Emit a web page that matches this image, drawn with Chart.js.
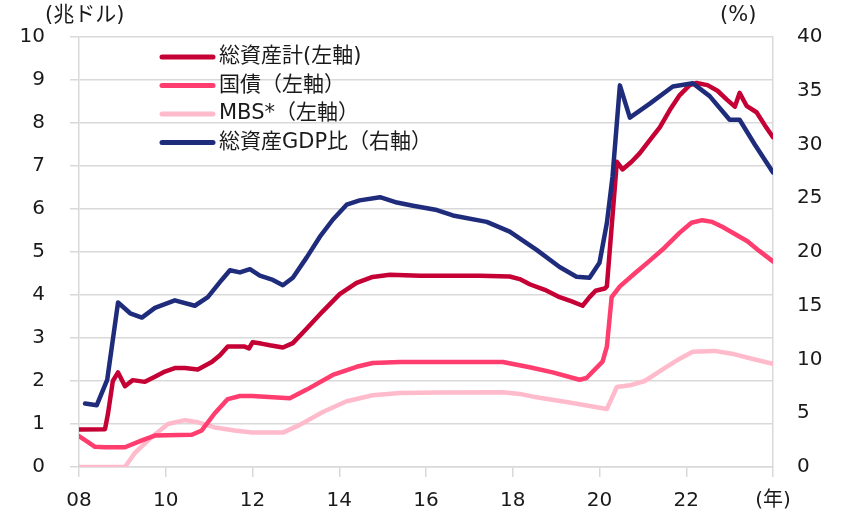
<!DOCTYPE html>
<html>
<head>
<meta charset="utf-8">
<script src="https://cdn.jsdelivr.net/npm/chart.js@4"></script>
<style>
  body { margin: 0; background: #fff; }
</style>
</head>
<body>
<canvas id="fedChart" width="843" height="512"></canvas>
<script>
// 系列名
const seriesNames = ["総資産計(左軸)", "国債（左軸）", "MBS*（左軸）", "総資産GDP比（右軸）"];

// X軸の目盛り
const yearTicks = ["08", "10", "12", "14", "16", "18", "20", "22", "(年)"];

// 総資産計（兆ドル）
const assetYears = [2008.0, 2008.6, 2008.67, 2008.78, 2008.9, 2009.06, 2009.24, 2009.52, 2009.75, 2009.98,
  2010.21, 2010.44, 2010.74, 2011.06, 2011.25, 2011.43, 2011.82, 2011.92, 2012.0, 2012.2,
  2012.4, 2012.7, 2012.93, 2013.25, 2013.62, 2014.01, 2014.4, 2014.77, 2015.17, 2015.86,
  2016.55, 2017.24, 2017.93, 2018.16, 2018.39, 2018.74, 2019.08, 2019.36, 2019.61, 2019.77,
  2019.91, 2020.12, 2020.17, 2020.4, 2020.53, 2020.74, 2020.93, 2021.16, 2021.39, 2021.62,
  2021.85, 2022.08, 2022.24, 2022.49, 2022.72, 2022.93, 2023.12, 2023.23, 2023.39, 2023.62,
  2023.81, 2024.0];
const assetValues = [0.87, 0.88, 1.25, 2.0, 2.2, 1.88, 2.02, 1.98, 2.1, 2.22,
  2.3, 2.3, 2.27, 2.44, 2.6, 2.8, 2.8, 2.76, 2.9, 2.87,
  2.83, 2.78, 2.88, 3.22, 3.62, 4.02, 4.28, 4.42, 4.47, 4.45,
  4.45, 4.45, 4.43, 4.37, 4.25, 4.12, 3.95, 3.85, 3.75, 3.95,
  4.1, 4.15, 4.2, 7.1, 6.92, 7.1, 7.3, 7.6, 7.9, 8.3,
  8.65, 8.88, 8.93, 8.88, 8.75, 8.55, 8.38, 8.7, 8.4, 8.25,
  7.95, 7.67];

// 国債（兆ドル）
const tsyYears = [2008.0, 2008.37, 2008.6, 2009.06, 2009.45, 2009.75, 2010.6, 2010.83, 2011.13, 2011.43,
  2011.71, 2011.99, 2012.86, 2013.25, 2013.85, 2014.4, 2014.77, 2015.4, 2017.77, 2018.39,
  2018.92, 2019.54, 2019.7, 2020.07, 2020.17, 2020.28, 2020.47, 2020.81, 2021.16, 2021.5,
  2021.85, 2022.12, 2022.37, 2022.6, 2022.84, 2023.12, 2023.41, 2023.69, 2024.0];
const tsyValues = [0.72, 0.47, 0.46, 0.46, 0.62, 0.73, 0.75, 0.85, 1.25, 1.58,
  1.65, 1.65, 1.6, 1.8, 2.14, 2.33, 2.42, 2.44, 2.44, 2.32,
  2.2, 2.03, 2.07, 2.45, 2.8, 3.95, 4.2, 4.5, 4.8, 5.1,
  5.45, 5.68, 5.74, 5.7, 5.58, 5.42, 5.25, 5.02, 4.78];

// MBS（兆ドル）
const mbsYears = [2008.0, 2009.06, 2009.29, 2009.68, 2010.05, 2010.44, 2010.74, 2011.13, 2011.59, 2011.99,
  2012.7, 2013.09, 2013.62, 2014.17, 2014.77, 2015.4, 2016.32, 2017.77, 2018.16, 2018.55,
  2019.31, 2020.17, 2020.4, 2020.7, 2021.04, 2021.27, 2021.5, 2021.85, 2022.15, 2022.65,
  2023.12, 2023.58, 2024.0];
const mbsValues = [0, 0, 0.33, 0.7, 1.0, 1.09, 1.04, 0.92, 0.85, 0.8,
  0.8, 0.98, 1.28, 1.53, 1.67, 1.72, 1.73, 1.74, 1.7, 1.62,
  1.5, 1.35, 1.86, 1.9, 2.0, 2.15, 2.3, 2.52, 2.68, 2.7,
  2.62, 2.5, 2.4];

// 総資産GDP比（%）
const gdpYears = [2008.14, 2008.41, 2008.65, 2008.9, 2009.18, 2009.45, 2009.75, 2010.21, 2010.67, 2010.97,
  2011.29, 2011.48, 2011.71, 2011.94, 2012.17, 2012.47, 2012.7, 2012.93, 2013.25, 2013.55,
  2013.85, 2014.17, 2014.47, 2014.94, 2015.33, 2015.7, 2016.25, 2016.62, 2017.4, 2017.93,
  2018.55, 2019.08, 2019.47, 2019.77, 2020.0, 2020.17, 2020.3, 2020.47, 2020.7, 2021.16,
  2021.69, 2022.15, 2022.54, 2023.0, 2023.23, 2023.58, 2024.0];
const gdpValues = [5.9, 5.75, 8.1, 15.3, 14.3, 13.9, 14.8, 15.5, 15.0, 15.8,
  17.4, 18.3, 18.1, 18.4, 17.8, 17.4, 16.9, 17.6, 19.5, 21.4,
  23.0, 24.4, 24.8, 25.1, 24.6, 24.3, 23.9, 23.4, 22.8, 21.9,
  20.2, 18.6, 17.7, 17.6, 19.0, 22.7, 27.0, 35.5, 32.5, 33.8,
  35.4, 35.7, 34.5, 32.3, 32.3, 30.0, 27.4];

const pts = (xs, ys) => xs.map((x, i) => ({ x: x, y: ys[i] }));

const fontStack = "'DejaVu Sans', 'Noto Sans CJK JP', sans-serif";
const textColor = "#1a1a1a";
const gridColor = "#d9d9d9";

// 凡例と単位の描画
const extraText = {
  id: "extraText",
  afterDraw(chart) {
    const c = chart.ctx;
    c.save();
    c.font = "21px " + fontStack;
    c.fillStyle = textColor;
    c.textBaseline = "middle";
    c.textAlign = "left";
    c.fillText("(兆ドル)", 45, 16);
    c.fillText("(%)", 720, 16);

    chart.data.datasets.forEach((ds, i) => {
      const y = 57 + i * 28.5;
      c.strokeStyle = ds.borderColor;
      c.lineWidth = 5;
      c.lineCap = "round";
      c.beginPath();
      c.moveTo(162, y);
      c.lineTo(213, y);
      c.stroke();
      c.fillText(ds.label, 219, y);
    });
    c.restore();
  },
};

const ctx = document.getElementById("fedChart").getContext("2d");
new Chart(ctx, {
  type: "line",
  data: {
    datasets: [
      {
        label: seriesNames[0],
        data: pts(assetYears, assetValues),
        borderColor: "#c50034",
        yAxisID: "y",
        order: 1,
      },
      {
        label: seriesNames[1],
        data: pts(tsyYears, tsyValues),
        borderColor: "#ff3d6e",
        yAxisID: "y",
        order: 2,
      },
      {
        label: seriesNames[2],
        data: pts(mbsYears, mbsValues),
        borderColor: "#ffbacb",
        yAxisID: "y",
        order: 3,
      },
      {
        label: seriesNames[3],
        data: pts(gdpYears, gdpValues),
        borderColor: "#1f2c7c",
        yAxisID: "y2",
        order: 0,
      },
    ],
  },
  options: {
    responsive: false,
    animation: false,
    layout: { padding: { top: 37, left: 0, right: 0, bottom: 0 } },
    elements: {
      line: { borderWidth: 4.5, tension: 0, borderJoinStyle: "round", borderCapStyle: "round", fill: false },
      point: { radius: 0 },
    },
    plugins: {
      legend: { display: false },
      tooltip: { enabled: false },
    },
    scales: {
      x: {
        type: "linear",
        min: 2008,
        max: 2024,
        afterFit: (s) => { s.height = 45; },
        ticks: {
          stepSize: 2,
          autoSkip: false,
          maxRotation: 0,
          padding: 12,
          color: textColor,
          font: { family: fontStack, size: 20 },
          callback: (v, i) => yearTicks[i],
        },
        grid: { drawOnChartArea: false, tickLength: 10, color: gridColor, lineWidth: 1.5 },
        border: { display: true, color: gridColor, width: 1.5 },
      },
      y: {
        position: "left",
        min: 0,
        max: 10,
        afterFit: (s) => { s.width = 79; },
        ticks: {
          stepSize: 1,
          padding: 25,
          color: textColor,
          font: { family: fontStack, size: 20 },
        },
        grid: { color: gridColor, lineWidth: 1.5, tickLength: 9 },
        border: { display: true, color: gridColor, width: 1.5 },
      },
      y2: {
        position: "right",
        min: 0,
        max: 40,
        afterFit: (s) => { s.width = 70; },
        ticks: {
          stepSize: 5,
          padding: 24,
          color: textColor,
          font: { family: fontStack, size: 20 },
        },
        grid: { drawOnChartArea: false, drawTicks: false },
        border: { display: true, color: gridColor, width: 1.5 },
      },
    },
  },
  plugins: [extraText],
});
</script>
</body>
</html>
